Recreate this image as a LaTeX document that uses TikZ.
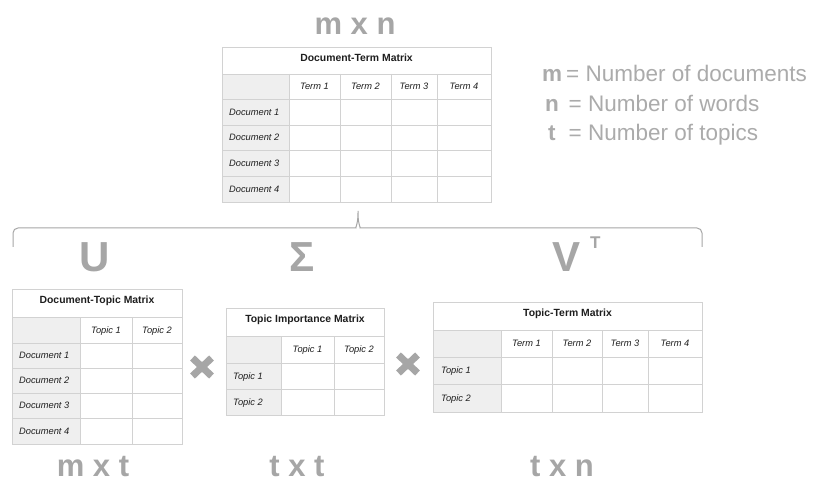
\documentclass[tikz,border=0pt]{standalone}
\usepackage{fontspec}
\setmainfont{Liberation Sans}
\usepackage{xcolor}
\definecolor{gridgray}{HTML}{D2D2D2}
\definecolor{headgray}{HTML}{EFEFEF}
\definecolor{cellink}{HTML}{1E1E1E}
\definecolor{biggray}{HTML}{A6A6A6}
\definecolor{leggray}{HTML}{ABABAB}

\begin{document}
\begin{tikzpicture}[
    x=1pt, y=-1pt,
    grid/.style={draw=gridgray, line width=0.9pt},
    headfill/.style={fill=headgray},
    ttl/.style={font=\fontsize{10.4}{12}\selectfont\bfseries, text=cellink, text height=7.4pt, text depth=0pt, inner sep=0pt},
    colh/.style={font=\fontsize{9.3}{11}\selectfont\itshape, text=cellink, text height=6.6pt, text depth=0pt, inner sep=0pt},
    rowh/.style={colh, anchor=west},
    dims/.style={font=\fontsize{31}{36}\selectfont\bfseries, text=biggray, anchor=base, inner sep=0pt},
    factor/.style={font=\fontsize{42}{48}\selectfont\bfseries, text=biggray, anchor=base, inner sep=0pt},
    legsym/.style={font=\fontsize{22.5}{26}\selectfont\bfseries, text=leggray, anchor=base west, inner sep=0pt},
    legtxt/.style={font=\fontsize{22.5}{26}\selectfont, text=leggray, anchor=base west, inner sep=0pt},
    times/.style={draw=biggray, line width=7pt},
    bracket/.style={draw=biggray, line width=1pt, rounded corners=5pt},
  ]
  \fill[white] (0,0) rectangle (814,481);
  \useasboundingbox (0,0) rectangle (814,481);

  % ================= document-term matrix (top)
  \node[dims] (mn) at (355,35) {m x n};
  \fill[headfill] (222,74) rectangle (289,202);
  \draw[grid] (222,47) rectangle (491,202);
  \foreach \y in {74,99,125,150,176} { \draw[grid] (222,\y) -- (491,\y); }
  \foreach \x in {289,340,391,437} { \draw[grid] (\x,74) -- (\x,202); }
  \node[ttl] (dt-title) at (356.5,57.5) {Document-Term Matrix};
  \foreach \x/\txt [count=\i] in {314.5/Term 1,365.5/Term 2,414/Term 3,464/Term 4}
    { \node[colh] (dt-h\i) at (\x,86.5) {\txt}; }
  \foreach \y [count=\i] in {112,137.5,163,189}
    { \node[rowh] (dt-r\i) at (229,\y) {Document \i}; }

  % legend
  \node[legsym] (leg-m) at (542,82) {m};
  \node[legtxt] (leg-m-txt) at (566,82) {= Number of documents};
  \node[legsym] (leg-n) at (545,112) {n};
  \node[legtxt] (leg-n-txt) at (568.5,112) {= Number of words};
  \node[legsym] (leg-t) at (548,141) {t};
  \node[legtxt] (leg-t-txt) at (568.5,141) {= Number of topics};

  % brace splitting the matrix into its three factors
  \coordinate (brace-l) at (13,247);
  \coordinate (brace-tip) at (358,208);
  \coordinate (brace-r) at (702,247);
  \draw[bracket] (brace-l) |- (351,228)
    .. controls (355,228) and (358,225) .. (brace-tip)
    .. controls (358,225) and (361,228) .. (365,228) -| (brace-r);

  % factor letters
  \node[factor] (fac-u) at (95,272) {U};
  \node[factor] (fac-s) at (302,272) {Σ};
  \node[factor] (fac-v) at (567,272) {V};
  \node[font=\fontsize{17}{20}\selectfont\bfseries, text=biggray, anchor=base west, inner sep=0pt]
    (fac-vt) at (590,249) {T};

  % ================= document-topic matrix (U)
  \fill[headfill] (12,317) rectangle (80,444);
  \draw[grid] (12,289) rectangle (182,444);
  \foreach \y in {317,343,368,393,418} { \draw[grid] (12,\y) -- (182,\y); }
  \foreach \x in {80,132} { \draw[grid] (\x,317) -- (\x,444); }
  \node[ttl] (u-title) at (97,300) {Document-Topic Matrix};
  \foreach \x [count=\i] in {106,157} { \node[colh] (u-h\i) at (\x,330) {Topic \i}; }
  \foreach \y [count=\i] in {355.5,380.5,405.5,431}
    { \node[rowh] (u-r\i) at (19,\y) {Document \i}; }
  \node[dims] (mt) at (93,476) {m x t};

  % first product sign
  \coordinate (times-1) at (202,367);
  \draw[times] ([shift={(-9.5,-9)}]times-1) -- ([shift={(9.5,9)}]times-1);
  \draw[times] ([shift={(-9.5,9)}]times-1) -- ([shift={(9.5,-9)}]times-1);

  % ================= topic importance matrix (Sigma)
  \fill[headfill] (226,336) rectangle (281,415);
  \draw[grid] (226,308) rectangle (384,415);
  \foreach \y in {336,363,389} { \draw[grid] (226,\y) -- (384,\y); }
  \foreach \x in {281,334} { \draw[grid] (\x,336) -- (\x,415); }
  \node[ttl] (s-title) at (305,319) {Topic Importance Matrix};
  \foreach \x [count=\i] in {307.5,359} { \node[colh] (s-h\i) at (\x,349.5) {Topic \i}; }
  \foreach \y [count=\i] in {376,402} { \node[rowh] (s-r\i) at (233,\y) {Topic \i}; }
  \node[dims] (tt) at (297,476) {t x t};

  % second product sign
  \coordinate (times-2) at (408,364);
  \draw[times] ([shift={(-9.5,-9)}]times-2) -- ([shift={(9.5,9)}]times-2);
  \draw[times] ([shift={(-9.5,9)}]times-2) -- ([shift={(9.5,-9)}]times-2);

  % ================= topic-term matrix (V^T)
  \fill[headfill] (433,330) rectangle (501,412);
  \draw[grid] (433,302) rectangle (702,412);
  \foreach \y in {330,357,384} { \draw[grid] (433,\y) -- (702,\y); }
  \foreach \x in {501,552,602,648} { \draw[grid] (\x,330) -- (\x,412); }
  \node[ttl] (v-title) at (567.5,313) {Topic-Term Matrix};
  \foreach \x [count=\i] in {526.5,577,625,675} { \node[colh] (v-h\i) at (\x,343.5) {Term \i}; }
  \foreach \y [count=\i] in {370.5,398} { \node[rowh] (v-r\i) at (441,\y) {Topic \i}; }
  \node[dims] (tn) at (562,476) {t x n};
\end{tikzpicture}
\end{document}
